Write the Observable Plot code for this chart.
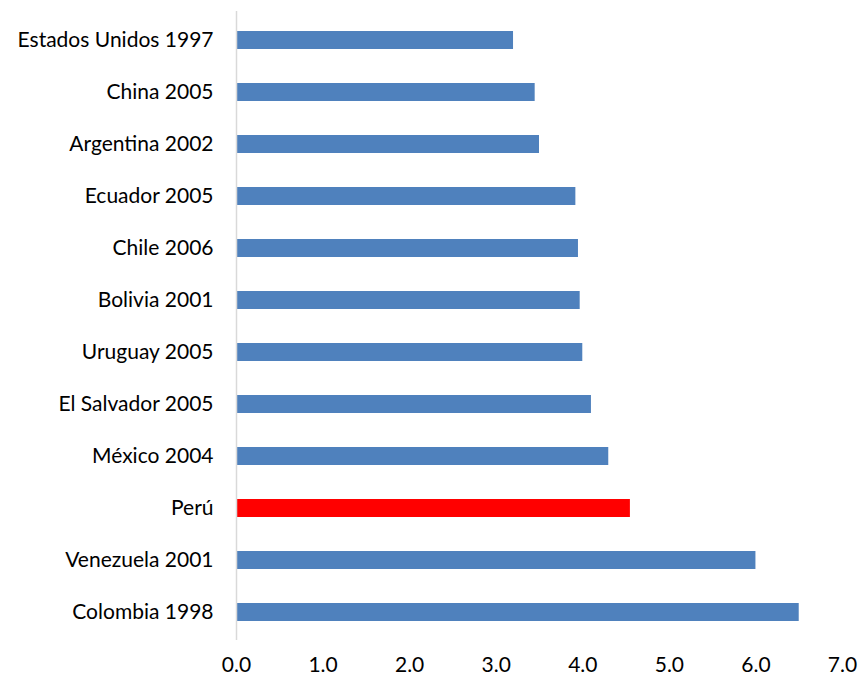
<!DOCTYPE html>
<html>
<head>
<meta charset="utf-8">
<script src="https://cdn.jsdelivr.net/npm/d3@7"></script>
<script src="https://cdn.jsdelivr.net/npm/@observablehq/plot@0.6"></script>
<style>
  html, body { margin: 0; padding: 0; background: #fff; }
  #chart svg { display: block; }
</style>
</head>
<body>
<div id="chart"></div>
<script>
const countries = ["Estados Unidos 1997", "China 2005", "Argentina 2002", "Ecuador 2005", "Chile 2006", "Bolivia 2001", "Uruguay 2005", "El Salvador 2005", "México 2004", "Perú", "Venezuela 2001", "Colombia 1998"];
const values = [3.2, 3.45, 3.5, 3.92, 3.95, 3.97, 4.0, 4.1, 4.3, 4.55, 6.0, 6.5];
const highlight = "Perú";
const xTicks = [0, 1, 2, 3, 4, 5, 6, 7];

const data = countries.map((c, i) => ({country: c, value: values[i], hl: c === highlight}));

const chart = Plot.plot({
  width: 860,
  height: 682,
  marginLeft: 236,
  marginRight: 18,
  marginTop: 11,
  marginBottom: 42,
  style: {fontFamily: "Lato, sans-serif", fontSize: "21px", color: "#000", background: "#fff"},
  x: {domain: [0, 7], ticks: xTicks, tickFormat: d => d.toFixed(1), label: null},
  y: {domain: countries, paddingInner: 0.657, paddingOuter: 0.3285, label: null},
  marks: [
    Plot.barX(data, {x: "value", y: "country", fill: d => d.hl ? "#FF0000" : "#4F81BD"}),
    Plot.ruleX([0], {stroke: "#d9d9d9", strokeWidth: 1.5}),
    Plot.axisX({ticks: xTicks, tickFormat: d => d.toFixed(1), tickSize: 0, tickPadding: 17, fontSize: 21, label: null}),
    Plot.axisY({tickSize: 0, tickPadding: 23, fontSize: 21, label: null})
  ]
});
document.getElementById("chart").appendChild(chart);
</script>
</body>
</html>
